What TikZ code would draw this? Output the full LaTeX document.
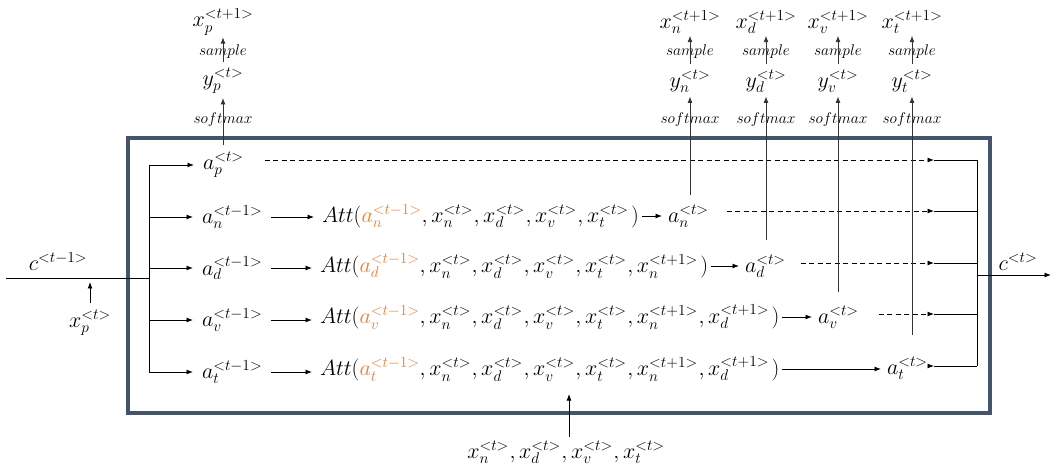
\RequirePackage{fix-cm}
\documentclass[tikz,border=0pt]{standalone}
\usepackage{xcolor}
\usetikzlibrary{arrows.meta,calc}
\definecolor{boxc}{HTML}{44546A}
\definecolor{orng}{HTML}{ED7D31}
\newcommand\mx[2]{x_{#1}^{<#2>}}
\newcommand\mycm{\mkern0.5mu,}
\newcommand\oa[1]{\textcolor{orng}{a_{#1}^{<t-1>}}}
\begin{document}
\begin{tikzpicture}[x=1pt,y=-1pt,
  lab/.style={inner sep=0pt,outer sep=0pt,font=\fontsize{22}{26}\selectfont},
  sm/.style={inner sep=0pt,outer sep=0pt,font=\fontsize{15.5}{18}\selectfont},
  arr/.style={-{Latex[length=6.5pt,width=5pt]},line width=0.9pt},
  ln/.style={line width=0.9pt},
  dsh/.style={arr,dash pattern=on 5pt off 3.5pt},
  vline/.style={arr,draw=black!80,fill=black!80},
]
\useasboundingbox (0,0) rectangle (1063,470);
\draw[boxc,line width=3.5pt] (128,138) rectangle (990,413);

% left input
\coordinate (inL) at (6,278);
\coordinate (busM) at (149,278);
\coordinate (busT) at (149,165);
\coordinate (busB) at (149,372);
\draw[ln] (inL) -- (busM);
\draw[ln] (busT) -- (busB);
\node[lab] (cprev) at (58,262) {$c^{<t-1>}$};
\node[lab] (xpin) at (90,323) {$\mx{p}{t}$};
\coordinate (xptip) at (90,282);
\draw[arr,shorten <=7pt] (xptip |- xpin.north) -- (xptip);

% left row labels
\node[lab,anchor=west] (pa) at (203,165) {$a_p^{<t>}$};
\node[lab,anchor=west] (na) at (202,217) {$a_n^{<t-1>}$};
\node[lab,anchor=west] (da) at (202,268) {$a_d^{<t-1>}$};
\node[lab,anchor=west] (va) at (202,320) {$a_v^{<t-1>}$};
\node[lab,anchor=west] (ta) at (202,372) {$a_t^{<t-1>}$};
\foreach \n in {pa,na,da,va,ta} \draw[arr,shorten >=9pt] (busT |- \n.west) -- (\n.west);

% attention terms
\node[lab,anchor=west] (An) at (322,216) {$Att(\oa{n},\mx{n}{t}\mycm\mx{d}{t}\mycm\mx{v}{t}\mycm\mx{t}{t}\mkern2mu)$};
\node[lab,anchor=west] (Ad) at (320,266) {$Att(\oa{d},\mx{n}{t}\mycm\mx{d}{t}\mycm\mx{v}{t}\mycm\mx{t}{t}\mycm\mx{n}{t+1}\mkern2mu)$};
\node[lab,anchor=west] (Av) at (320,317) {$Att(\oa{v},\mx{n}{t}\mycm\mx{d}{t}\mycm\mx{v}{t}\mycm\mx{t}{t}\mycm\mx{n}{t+1}\mycm\mx{d}{t+1}\mkern2mu)$};
\node[lab,anchor=west] (At) at (320,369) {$Att(\oa{t},\mx{n}{t}\mycm\mx{d}{t}\mycm\mx{v}{t}\mycm\mx{t}{t}\mycm\mx{n}{t+1}\mycm\mx{d}{t+1}\mkern2mu)$};
\foreach \a/\b in {na/An,da/Ad,va/Av,ta/At} \draw[arr,shorten <=9pt,shorten >=8pt] (\a.east) -- (\a.east -| \b.west);

% outputs
\node[lab,anchor=west] (on) at (668,216) {$a_n^{<t>}$};
\node[lab,anchor=west] (od) at (745,266) {$a_d^{<t>}$};
\node[lab,anchor=west] (ov) at (818,317) {$a_v^{<t>}$};
\node[lab,anchor=west] (ot) at (887,368) {$a_t^{<t>}$};
\foreach \a/\b in {An/on,Ad/od,Av/ov,At/ot} \draw[arr,shorten <=3pt,shorten >=6pt] (\a.east) -- (\a.east -| \b.west);

% right merge
\coordinate (mp) at (934,160); \coordinate (rp) at (977,160);
\coordinate (mn) at (934,211); \coordinate (rn) at (977,211);
\coordinate (md) at (934,263); \coordinate (rd) at (977,263);
\coordinate (mv) at (934,314); \coordinate (rv) at (977,314);
\coordinate (mt) at (934,366); \coordinate (rt) at (977,366);
\draw[dsh,shorten <=21pt] (pa.east |- mp) -- (mp);
\draw[dsh,shorten <=18pt] (on.east |- mn) -- (mn);
\draw[dsh,shorten <=15pt] (od.east |- md) -- (md);
\draw[dsh,shorten <=20pt] (ov.east |- mv) -- (mv);
\draw[arr,shorten <=1pt] (ot.east |- mt) -- (mt);
\foreach \a/\b in {mp/rp,mn/rn,md/rd,mv/rv,mt/rt} \draw[ln] (\a) -- (\b);
\draw[ln] (rp) -- (rt);
\coordinate (ro) at (977,275);
\coordinate (cend) at (1051,275);
\draw[arr] (ro) -- (cend);
\node[lab] (cout) at (1018,262) {$c^{<t>}$};

% top outputs
\foreach \k/\c/\x in {p/pa/223,n/on/690,d/od/766,v/ov/838,t/ot/912}{
  \node[lab] (y\k) at (\x,81) {$y_\k^{<t>}$};
  \node[lab] (x\k) at (\x,22) {$x_\k^{<t+1>}$};
  \node[sm] (sm\k) at (\x,120) {$softmax$};
  \node[sm] (sa\k) at (\x,52) {$sample$};
  \draw[vline,shorten <=6pt,shorten >=2pt] (y\k.north) -- (x\k.south);
}
\draw[vline,shorten <=7pt,shorten >=4pt] (yp.south |- pa.north) -- (yp.south);
\draw[vline,shorten <=10pt,shorten >=4pt] (yn.south |- on.north) -- (yn.south);
\draw[vline,shorten <=15pt,shorten >=4pt] (yd.south |- od.north) -- (yd.south);
\draw[vline,shorten <=14pt,shorten >=4pt] (yv.south |- ov.north) -- (yv.south);
\draw[vline,shorten <=22pt,shorten >=4pt] (yt.south |- ot.north) -- (yt.south);

% bottom input
\node[lab] (inp) at (566,452) {$\mx{n}{t}\mycm\mx{d}{t}\mycm\mx{v}{t}\mycm\mx{t}{t}$};
\coordinate (inptip) at (569,394);
\draw[arr,shorten <=4pt] (inptip |- inp.north) -- (inptip);
\end{tikzpicture}
\end{document}
